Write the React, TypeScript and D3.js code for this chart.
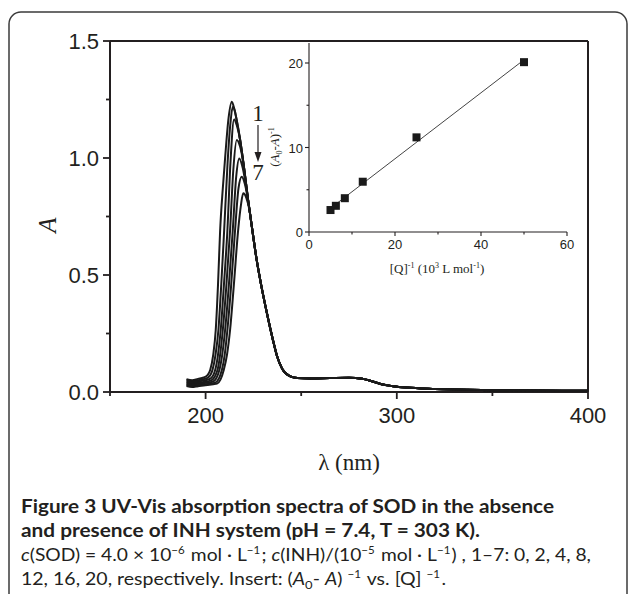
import React from 'react';
import * as d3 from 'd3';

const W = 629;
const H = 594;

// Main chart ticks
const xMajorTicks = [200, 300, 400];
const xMinorTicks = [150, 250, 350];
const yMajorTicks = [0, 0.5, 1.0, 1.5];
const yMinorTicks = [0.25, 0.75, 1.25];

// Spectra (wavelength nm, absorbance) — rising part + peak of each curve
const curve1 = [[190, 0.055], [193, 0.05], [196, 0.056], [199, 0.062], [201, 0.072], [202.4, 0.094], [204, 0.16], [205.3, 0.265], [206.5, 0.46], [207.6, 0.69], [209, 0.87], [210.2, 1.0], [212, 1.17], [213.7, 1.24], [215, 1.21]];
const curve2 = [[190, 0.05], [193, 0.046], [196, 0.05], [199, 0.055], [201.5, 0.063], [203.6, 0.094], [205.2, 0.16], [206.7, 0.265], [208.2, 0.46], [209.7, 0.69], [211.5, 0.98], [213, 1.15], [214.2, 1.219], [215.3, 1.2]];
const curve3 = [[190, 0.045], [193, 0.041], [196, 0.045], [199, 0.049], [202.5, 0.057], [205, 0.094], [206.5, 0.16], [207.9, 0.265], [209.6, 0.46], [211.4, 0.69], [213, 0.98], [214.9, 1.165], [216.3, 1.14]];
const curve4 = [[190, 0.04], [193, 0.036], [196, 0.04], [199, 0.043], [203, 0.05], [206.2, 0.094], [207.6, 0.16], [209, 0.265], [210.9, 0.46], [212.8, 0.69], [214.5, 0.95], [216.3, 1.077], [218, 1.05]];
const curve5 = [[190, 0.035], [193, 0.031], [196, 0.035], [199, 0.038], [204, 0.045], [207.2, 0.094], [208.7, 0.16], [210.2, 0.265], [212.2, 0.46], [214.2, 0.69], [216, 0.92], [217.6, 0.998], [219.2, 0.965]];
const curve6 = [[190, 0.03], [193, 0.026], [196, 0.03], [199, 0.033], [205, 0.04], [208.5, 0.094], [210, 0.16], [211.4, 0.265], [213.4, 0.46], [215.4, 0.69], [217.2, 0.87], [218.9, 0.92], [220.5, 0.89]];
const curve7 = [[190, 0.025], [193, 0.021], [196, 0.025], [199, 0.028], [206, 0.036], [209.5, 0.094], [211.2, 0.16], [212.8, 0.265], [214.8, 0.46], [217, 0.69], [218.5, 0.8], [219.7, 0.849], [221.3, 0.83], [223, 0.775]];
// Shared descending side and tail where all curves coincide
const descent = [[216.3, 1.16], [218, 1.08], [219.8, 0.977], [222.4, 0.81], [224.3, 0.7], [226.8, 0.56], [229, 0.46], [232, 0.34], [235, 0.23], [237.3, 0.155], [240, 0.1], [244, 0.068], [248, 0.06], [255, 0.058], [265, 0.06], [275, 0.061], [282, 0.057], [287, 0.046], [292, 0.033], [298, 0.025], [305, 0.019], [320, 0.013], [350, 0.008], [400, 0.005]];
const spectra = [curve1, curve2, curve3, curve4, curve5, curve6, curve7];

// Inset data
const insetX = [5, 6.25, 8.33, 12.5, 25, 50];
const insetY = [2.6, 3.1, 4.0, 5.95, 11.2, 20.1];
const insetXMajor = [0, 20, 40, 60];
const insetXMinor = [10, 30, 50];
const insetYMajor = [0, 10, 20];
const insetYMinor = [5, 15];

const INK = '#231f20';

function buildCurve(own: number[][]) {
  const last = own[own.length - 1][0];
  return own.concat(descent.filter((d) => d[0] > last + 0.8));
}

export default function App() {
  const x = d3.scaleLinear().domain([150, 400]).range([110, 588]);
  const y = d3.scaleLinear().domain([0, 1.5]).range([392, 41]);

  const ix = d3.scaleLinear().domain([0, 60]).range([309, 567]);
  const iy = d3.scaleLinear().domain([0, 20]).range([232, 63]);
  const iyTop = iy.invert(43);

  const line = d3
    .line<number[]>()
    .x((d) => x(d[0]))
    .y((d) => y(d[1]))
    .curve(d3.curveMonotoneX);

  // linear regression for inset fit
  const mx = d3.mean(insetX) as number;
  const my = d3.mean(insetY) as number;
  let sxy = 0;
  let sxx = 0;
  insetX.forEach((v, i) => {
    sxy += (v - mx) * (insetY[i] - my);
    sxx += (v - mx) * (v - mx);
  });
  const slope = sxy / sxx;
  const icpt = my - slope * mx;
  const [fx0, fx1] = d3.extent(insetX) as [number, number];
  const fitX0 = fx0 - 0.6;

  const sup = (t: string, size: number) => (
    <>
      <tspan dy={-size * 0.4} fontSize={size * 0.6}>{t}</tspan>
      <tspan dy={size * 0.4}>{'\u200A'}</tspan>
    </>
  );

  return (
    <svg
      width={W}
      height={H}
      style={{ position: 'absolute', left: 0, top: 0, background: '#fff' }}
      xmlns="http://www.w3.org/2000/svg"
    >
      <rect x={0} y={0} width={W} height={H} fill="#fff" />
      <rect x={9} y={12} width={618} height={640} rx={12} ry={12} fill="none" stroke="#3b3b3b" strokeWidth={1.5} />

      {/* Main plot frame */}
      <g stroke={INK} strokeWidth={2} fill="none">
        <line x1={x(150)} x2={x(400)} y1={y(1.5)} y2={y(1.5)} />
        <line x1={x(400)} x2={x(400)} y1={y(1.5)} y2={y(0)} />
        <line x1={x(150)} x2={x(400)} y1={y(0)} y2={y(0)} />
        <line x1={x(150)} x2={x(150)} y1={y(1.5)} y2={y(0)} />
      </g>

      {/* Main ticks */}
      <g stroke={INK} strokeWidth={1.8}>
        {xMajorTicks.map((t) => (
          <line key={'xm' + t} x1={x(t)} x2={x(t)} y1={y(0)} y2={y(0) + 7} />
        ))}
        {xMinorTicks.map((t) => (
          <line key={'xn' + t} x1={x(t)} x2={x(t)} y1={y(0)} y2={y(0) + 4} />
        ))}
        {yMajorTicks.map((t) => (
          <line key={'ym' + t} x1={x(150) - 7} x2={x(150)} y1={y(t)} y2={y(t)} />
        ))}
        {yMinorTicks.map((t) => (
          <line key={'yn' + t} x1={x(150) - 4} x2={x(150)} y1={y(t)} y2={y(t)} />
        ))}
      </g>
      <g fontFamily="'Liberation Sans', Arial, sans-serif" fontSize={22} fill={INK}>
        {xMajorTicks.map((t) => (
          <text key={'xl' + t} x={x(t)} y={y(0) + 31} textAnchor="middle">{t}</text>
        ))}
        {yMajorTicks.map((t) => (
          <text key={'yl' + t} x={x(150) - 11} y={y(t) + 8} textAnchor="end">{t.toFixed(1)}</text>
        ))}
      </g>

      {/* Axis titles */}
      <text x={349} y={470} textAnchor="middle" fontFamily="'Liberation Serif', 'Times New Roman', serif" fontSize={23} fill={INK}>
        λ (nm)
      </text>
      <text
        transform="translate(56,225) rotate(-90)"
        textAnchor="middle"
        fontFamily="'Liberation Serif', 'Times New Roman', serif"
        fontStyle="italic"
        fontSize={25}
        fill={INK}
      >
        A
      </text>

      {/* Spectra */}
      <g fill="none" stroke="#1a1a1a" strokeWidth={2} strokeLinejoin="round">
        {spectra.map((c, i) => (
          <path key={'c' + i} d={line(buildCurve(c) as any) as string} />
        ))}
      </g>

      {/* 1 -> 7 annotation */}
      <g fontFamily="'Liberation Serif', 'Times New Roman', serif" fontSize={23} fill={INK}>
        <text x={258} y={121} textAnchor="middle">1</text>
        <text x={258} y={180} textAnchor="middle">7</text>
      </g>
      <line x1={258} x2={258} y1={125} y2={157} stroke={INK} strokeWidth={1.2} />
      <path d="M254.5,152 L258,162 L261.5,152 Z" fill={INK} />

      {/* Inset axes */}
      <g stroke={INK} strokeWidth={1.1} fill="none">
        <line x1={ix(0)} x2={ix(0)} y1={iy(iyTop)} y2={iy(0)} />
        <line x1={ix(0)} x2={ix(60)} y1={iy(0)} y2={iy(0)} />
        {insetXMajor.map((t) => (
          <line key={'ixm' + t} x1={ix(t)} x2={ix(t)} y1={iy(0)} y2={iy(0) + 4} />
        ))}
        {insetXMinor.map((t) => (
          <line key={'ixn' + t} x1={ix(t)} x2={ix(t)} y1={iy(0)} y2={iy(0) + 2.5} />
        ))}
        {insetYMajor.map((t) => (
          <line key={'iym' + t} x1={ix(0) - 4} x2={ix(0)} y1={iy(t)} y2={iy(t)} />
        ))}
        {insetYMinor.map((t) => (
          <line key={'iyn' + t} x1={ix(0) - 2.5} x2={ix(0)} y1={iy(t)} y2={iy(t)} />
        ))}
      </g>
      <g fontFamily="'Liberation Sans', Arial, sans-serif" fontSize={13} fill={INK}>
        {insetXMajor.map((t) => (
          <text key={'ixl' + t} x={ix(t)} y={iy(0) + 17} textAnchor="middle">{t}</text>
        ))}
        {insetYMajor.map((t) => (
          <text key={'iyl' + t} x={ix(0) - 6} y={iy(t) + 5} textAnchor="end">{t}</text>
        ))}
      </g>
      <text x={437} y={273} textAnchor="middle" fontFamily="'Liberation Serif', 'Times New Roman', serif" fontSize={13} fill={INK}>
        [Q]<tspan dy={-5} fontSize={8}>-1</tspan><tspan dy={5}> (10</tspan><tspan dy={-5} fontSize={8}>3</tspan><tspan dy={5}> L mol</tspan><tspan dy={-5} fontSize={8}>-1</tspan><tspan dy={5}>)</tspan>
      </text>
      <text
        transform="translate(279,147) rotate(-90)"
        textAnchor="middle"
        fontFamily="'Liberation Serif', 'Times New Roman', serif"
        fontSize={13}
        fill={INK}
      >
        (<tspan fontStyle="italic">A</tspan><tspan dy={3} fontSize={8}>0</tspan><tspan dy={-3}>-</tspan><tspan fontStyle="italic">A</tspan>)<tspan dy={-5} fontSize={8}>-1</tspan>
      </text>

      {/* Inset fit line and points */}
      <line
        x1={ix(fitX0)}
        y1={iy(icpt + slope * fitX0)}
        x2={ix(fx1)}
        y2={iy(icpt + slope * fx1)}
        stroke="#444"
        strokeWidth={1}
      />
      {insetX.map((v, i) => (
        <rect key={'p' + i} x={ix(v) - 4} y={iy(insetY[i]) - 4} width={8} height={8} fill="#1a1a1a" />
      ))}

      {/* Caption */}
      <g fontFamily="Lato, 'Open Sans', sans-serif" fill="#231f20">
        <text x={21} y={513} fontSize={19} fontWeight={700} textLength={533} lengthAdjust="spacingAndGlyphs">
          Figure 3 UV-Vis absorption spectra of SOD in the absence
        </text>
        <text x={21} y={537} fontSize={19} fontWeight={700} textLength={459} lengthAdjust="spacingAndGlyphs">
          and presence of INH system (pH = 7.4, T = 303 K).
        </text>
        <text x={21} y={561} fontSize={18} textLength={570} lengthAdjust="spacingAndGlyphs">
          <tspan fontStyle="italic">c</tspan>(SOD) = 4.0 × 10{sup('−6', 18)} mol · L{sup('−1', 18)}; <tspan fontStyle="italic">c</tspan>(INH)/(10{sup('−5', 18)} mol · L{sup('−1', 18)}) , 1–7: 0, 2, 4, 8,
        </text>
        <text x={21} y={585} fontSize={18} textLength={425} lengthAdjust="spacingAndGlyphs">
          12, 16, 20, respectively. Insert: (<tspan fontStyle="italic">A</tspan><tspan dy={4} fontSize={12}>0</tspan><tspan dy={-4}>- </tspan><tspan fontStyle="italic">A</tspan>) {sup('−1', 18)} vs. [Q] {sup('−1', 18)}.
        </text>
      </g>
    </svg>
  );
}
